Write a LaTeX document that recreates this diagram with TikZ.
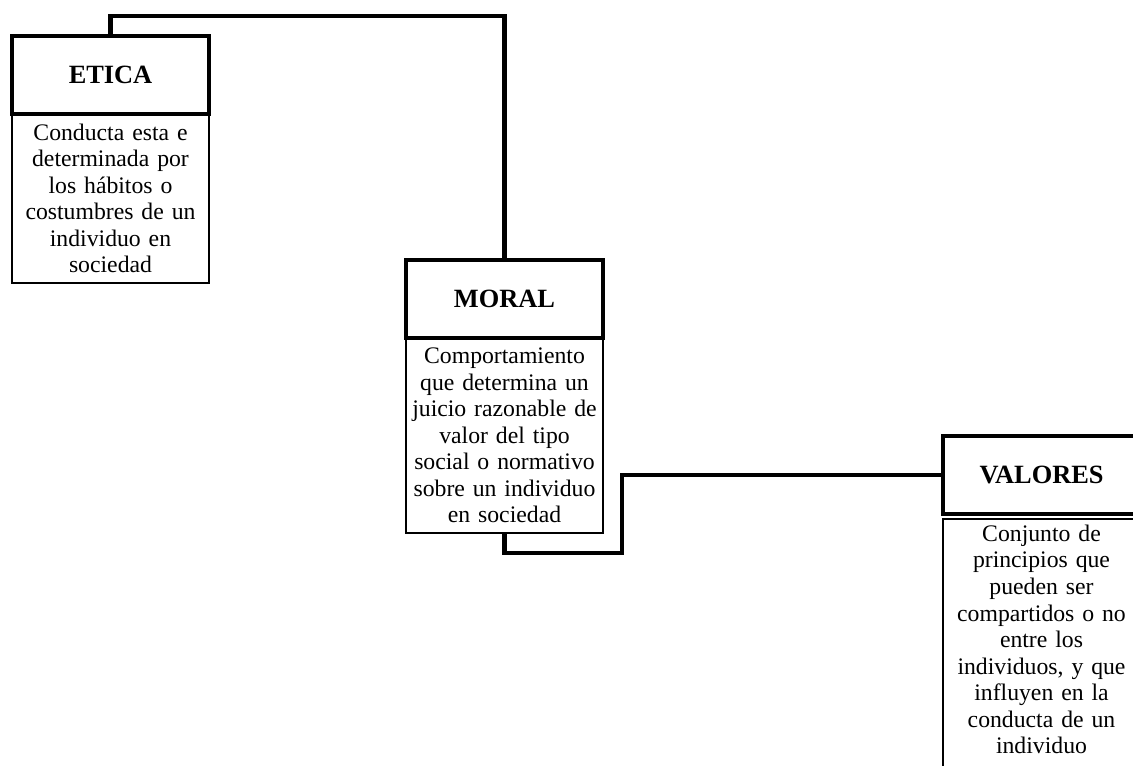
\documentclass[tikz,border=0pt]{standalone}
\usepackage{fontspec}
\setmainfont{Liberation Serif}
\usetikzlibrary{positioning}

\tikzset{
    titlebox/.style={draw, line width=2.2pt, minimum width=3.94cm, minimum height=1.56cm,
        outer sep=0pt, font=\fontsize{15}{17}\selectfont\bfseries},
    textbox/.style={draw, line width=1.2pt, text width=3.7cm, inner sep=0.12cm,
        outer sep=0pt, align=center, font=\fontsize{13.5}{15.1}\selectfont},
    link/.style={line width=2.3pt}
}

\begin{document}
\begin{tikzpicture}[x=0.02cm, y=-0.02cm]
    \useasboundingbox (0,0) rectangle (1133,765);

    % Title boxes
    \node[titlebox] (eticaT) at (110.5,75) {ETICA};
    \node[titlebox] (moralT) at (504.5,299) {MORAL};
    \node[titlebox] (valT) at (1041.5,475) {VALORES};

    % Description boxes
    \node[textbox, minimum height=3.38cm, below=0pt of eticaT] (eticaB)
        {Conducta esta e\\ determinada por\\ los hábitos o\\ costumbres de un\\ individuo en\\ sociedad};
    \node[textbox, minimum height=3.9cm, below=0pt of moralT] (moralB)
        {Comportamiento\\ que determina un\\ juicio razonable de\\ valor del tipo\\ social o normativo\\ sobre un individuo\\ en sociedad};
    \node[textbox, below=0.1cm of valT] (valB)
        {Conjunto de\\ principios que\\ pueden ser\\ compartidos o no\\ entre los\\ individuos, y que\\ influyen en la\\ conducta de un\\ individuo\rule[-1cm]{0pt}{1cm}};

    % Connectors
    \coordinate (top) at (300,16);
    \coordinate (bend) at (622,553);
    \draw[link] (eticaT.north) |- (top) -| (moralT.north);
    \draw[link] (moralB.south) |- (bend) |- (valT.west);

\end{tikzpicture}
\end{document}
